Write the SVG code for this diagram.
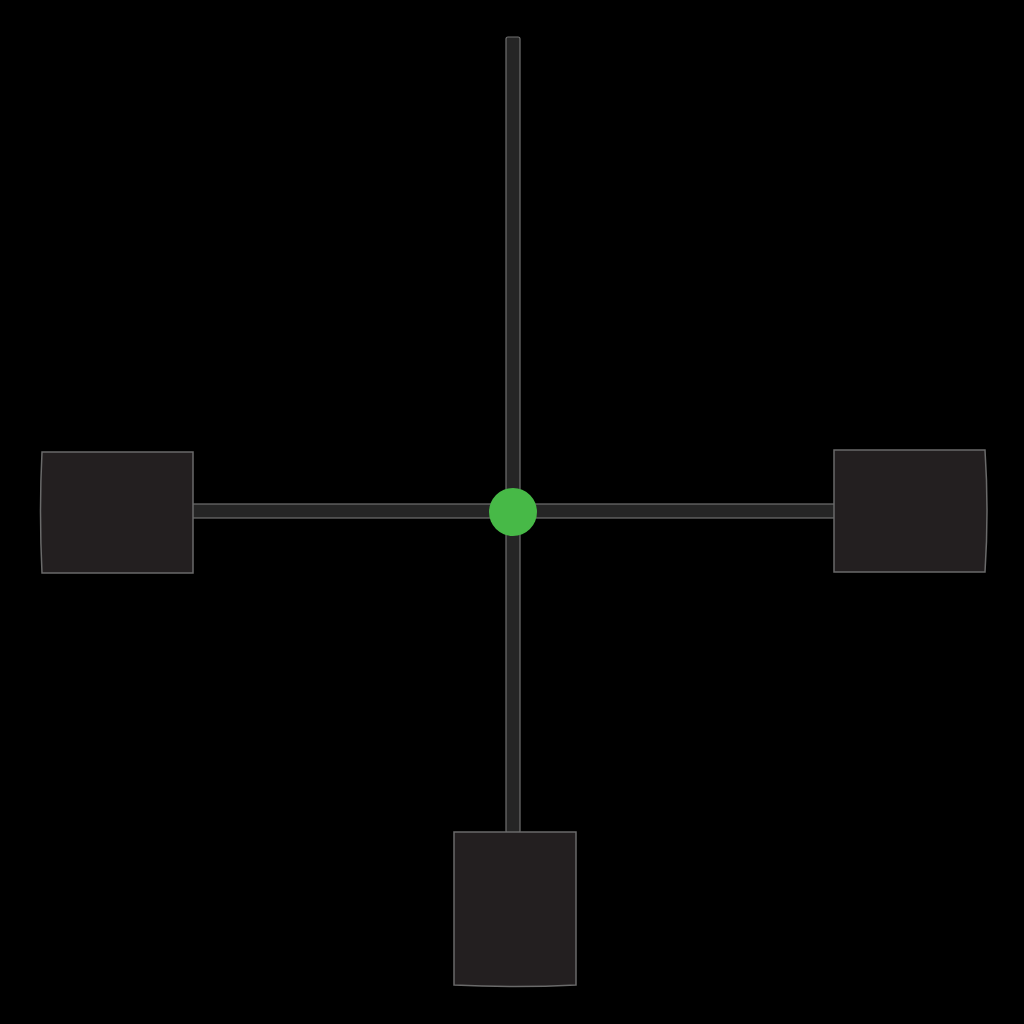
<svg xmlns="http://www.w3.org/2000/svg" width="1024" height="1024" viewBox="0 0 1024 1024">
<style>
.node{fill:#231f20;stroke:#6a6a6a;stroke-width:1.5}
.wire{fill:#252525;stroke:#707070;stroke-width:1.2}
</style>
<rect width="1024" height="1024" fill="#000"/>
<g id="connectors">
<rect class="wire" x="506" y="37" width="14" height="796" rx="2"/>
<rect class="wire" x="191" y="504" width="644" height="14"/>
</g>
<g id="node-left"><path class="node" d="M42,452 H193 V573 H42 Q39,512 42,452 Z"/></g>
<g id="node-right"><path class="node" d="M834,450 H985 Q989,511 985,572 H834 Z"/></g>
<g id="node-bottom"><path class="node" d="M454,832 H576 V985 Q515,988 454,985 Z"/></g>
<g id="hub"><circle cx="513" cy="512" r="24" fill="#47b947"/></g>
</svg>
